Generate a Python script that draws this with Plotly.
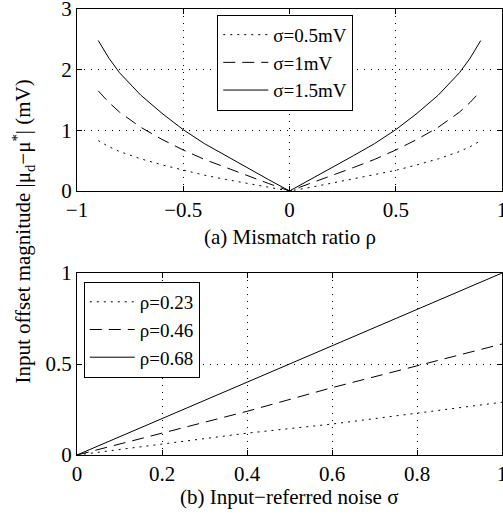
import plotly.graph_objects as go
from plotly.subplots import make_subplots

# --- (a) offset vs mismatch ratio ---
rho = [-0.9, -0.85, -0.8, -0.7, -0.6, -0.5, -0.4, -0.3, -0.2, -0.1, 0,
       0.1, 0.2, 0.3, 0.4, 0.5, 0.6, 0.7, 0.8, 0.85, 0.9]
off_s05 = [0.83, 0.73, 0.65, 0.53, 0.43, 0.34, 0.26, 0.19, 0.13, 0.06, 0,
           0.06, 0.13, 0.19, 0.26, 0.34, 0.43, 0.53, 0.65, 0.73, 0.83]
off_s10 = [1.65, 1.46, 1.30, 1.05, 0.85, 0.675, 0.52, 0.385, 0.25, 0.125, 0,
           0.125, 0.25, 0.385, 0.52, 0.675, 0.85, 1.05, 1.30, 1.46, 1.65]
off_s15 = [2.48, 2.19, 1.95, 1.58, 1.28, 1.01, 0.78, 0.58, 0.38, 0.19, 0,
           0.19, 0.38, 0.58, 0.78, 1.01, 1.28, 1.58, 1.95, 2.19, 2.48]

# --- (b) offset vs input-referred noise ---
sigma = [0, 0.2, 0.4, 0.6, 0.8, 1.0]
off_r023 = [0, 0.06, 0.12, 0.17, 0.23, 0.29]
off_r046 = [0, 0.12, 0.24, 0.37, 0.49, 0.61]
off_r068 = [0, 0.20, 0.40, 0.60, 0.80, 1.00]

top_xticks = [-1, -0.5, 0, 0.5, 1]
top_xlabels = ["\u22121", "\u22120.5", "0", "0.5", "1"]
top_yticks = [0, 1, 2, 3]
bot_xticks = [0, 0.2, 0.4, 0.6, 0.8, 1]
bot_xlabels = ["0", "0.2", "0.4", "0.6", "0.8", "1"]
bot_yticks = [0, 0.5, 1]

FONT = "Liberation Serif"
FS = 21
DOT = "2px,5px"
DASH = "12px,7px"

fig = make_subplots(rows=2, cols=1)

for y, name, dash in [(off_s05, "\u03c3=0.5mV", DOT),
                      (off_s10, "\u03c3=1mV", DASH),
                      (off_s15, "\u03c3=1.5mV", "solid")]:
    fig.add_trace(go.Scatter(x=rho, y=y, mode="lines", name=name,
                             line=dict(color="black", width=1, dash=dash),
                             legend="legend"), row=1, col=1)

for y, name, dash in [(off_r023, "\u03c1=0.23", DOT),
                      (off_r046, "\u03c1=0.46", DASH),
                      (off_r068, "\u03c1=0.68", "solid")]:
    fig.add_trace(go.Scatter(x=sigma, y=y, mode="lines", name=name,
                             line=dict(color="black", width=1, dash=dash),
                             legend="legend2"), row=2, col=1)

axis_common = dict(showline=True, linecolor="black", linewidth=1, mirror="ticks",
                   ticks="inside", ticklen=5, tickcolor="black", automargin=False,
                   ticklabeloverflow="allow",
                   showgrid=True, gridcolor="black", gridwidth=0.6, griddash="1px,6px",
                   zeroline=False, tickfont=dict(family=FONT, size=FS, color="black"))

fig.update_xaxes(**axis_common)
fig.update_yaxes(**axis_common)

fig.update_xaxes(range=[-1, 1], tickvals=top_xticks, ticktext=top_xlabels,
                 domain=[0, 1], row=1, col=1)
fig.update_yaxes(range=[0, 3], tickvals=top_yticks, domain=[0.592, 1], row=1, col=1)
fig.update_xaxes(range=[0, 1], tickvals=bot_xticks, ticktext=bot_xlabels,
                 domain=[0, 1], row=2, col=1)
fig.update_yaxes(range=[0, 1], tickvals=bot_yticks, domain=[0, 0.408], row=2, col=1)

legend_style = dict(bgcolor="white", bordercolor="black", borderwidth=1,
                    font=dict(family=FONT, size=19, color="black"),
                    xanchor="left", yanchor="top", tracegroupgap=0, itemwidth=45)

fig.update_layout(
    width=503, height=516,
    margin=dict(l=77, r=1, t=9, b=61, autoexpand=False),
    paper_bgcolor="white", plot_bgcolor="white",
    font=dict(family=FONT, size=FS, color="black"),
    showlegend=True,
    legend=dict(x=0.33, y=0.987, **legend_style),
    legend2=dict(x=0.016, y=0.388, **legend_style),
    annotations=[
        dict(text="(a) Mismatch ratio \u03c1", xref="paper", yref="paper",
             x=0.5, y=0.489, xanchor="center", yanchor="middle", showarrow=False,
             font=dict(family=FONT, size=FS)),
        dict(text="(b) Input\u2212referred noise \u03c3", xref="paper", yref="paper",
             x=0.5, y=-0.095, xanchor="center", yanchor="middle", showarrow=False,
             font=dict(family=FONT, size=FS)),
        dict(text="Input offset magnitude |\u03bc<sub>d</sub>\u2212\u03bc<sup>*</sup>| (mV)",
             xref="paper", yref="paper", x=-0.128, y=0.5, xanchor="center",
             yanchor="middle", textangle=-90, showarrow=False,
             font=dict(family=FONT, size=FS)),
    ],
)

fig.write_html("out.html", config={"displayModeBar": False},
               post_script="document.body.style.margin='0';"
                           "document.documentElement.style.overflow='hidden';"
                           "document.body.style.overflow='hidden';")
